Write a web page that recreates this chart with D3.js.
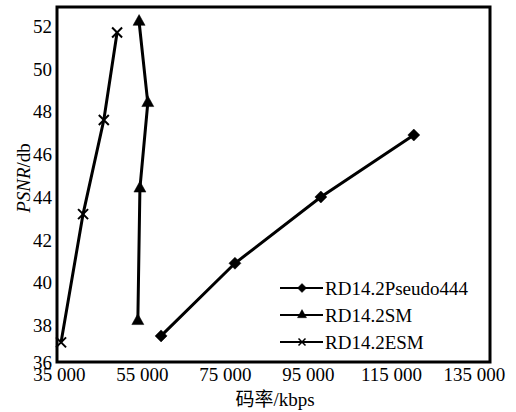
<!DOCTYPE html>
<html>
<head>
<meta charset="utf-8">
<script src="https://cdn.jsdelivr.net/npm/d3@7"></script>
<style>
  body { margin: 0; background: #fff; }
  svg text { font-family: "Liberation Serif", "Times New Roman", "DejaVu Serif", "Noto Sans CJK SC", serif; fill: #000; }
</style>
</head>
<body>
<div id="chart"></div>
<script>
const seriesNames = ["RD14.2Pseudo444", "RD14.2SM", "RD14.2ESM"];
const pseudoRate = [59600, 77400, 98100, 120500];
const pseudoPsnr = [37.5, 40.9, 44.0, 46.9];
const smRate = [54000, 54500, 56400, 54300];
const smPsnr = [38.2, 44.4, 48.4, 52.2];
const esmRate = [35500, 40800, 45800, 49000];
const esmPsnr = [37.2, 43.2, 47.6, 51.7];
const xTicks = [35000, 55000, 75000, 95000, 115000, 135000];
const yTicks = [36, 38, 40, 42, 44, 46, 48, 50, 52];

const W = 516, H = 412;
const plot = { left: 57, right: 490, top: 7, bottom: 362 };
const serif = '"Liberation Serif", "Times New Roman", "DejaVu Serif", serif';

const svg = d3.select("#chart")
  .append("svg")
  .attr("width", W)
  .attr("height", H);

// échelles
const x = d3.scaleLinear().domain([34520, 138860]).range([plot.left, plot.right]);
const y = d3.scaleLinear().domain([36.28, 52.89]).range([plot.bottom, plot.top]);

const fmt = d3.formatLocale({ decimal: ".", thousands: " ", grouping: [3], currency: ["", ""] }).format(",d");

// axes (sans traits, seulement les libellés)
const xAxis = svg.append("g")
  .attr("transform", `translate(0,${plot.bottom})`)
  .call(d3.axisBottom(x).tickValues(xTicks).tickFormat(fmt).tickSize(0).tickPadding(0));
xAxis.attr("font-family", null).attr("font-size", null);
xAxis.select(".domain").remove();
xAxis.selectAll("text")
  .attr("dy", null)
  .attr("y", 19)
  .style("font-size", "19px")
  .style("font-family", serif);

const yAxis = svg.append("g")
  .attr("transform", `translate(${plot.left},0)`)
  .call(d3.axisLeft(y).tickValues(yTicks).tickSize(0).tickPadding(5));
yAxis.attr("font-family", null).attr("font-size", null);
yAxis.select(".domain").remove();
yAxis.selectAll("text")
  .attr("dy", d => d === 36 ? "0.05em" : "0.33em")
  .style("font-size", "19px")
  .style("font-family", serif);

// cadre
svg.append("rect")
  .attr("x", plot.left)
  .attr("y", plot.top)
  .attr("width", plot.right - plot.left)
  .attr("height", plot.bottom - plot.top)
  .attr("fill", "none")
  .attr("stroke", "#000")
  .attr("stroke-width", 3);

// marqueurs
const diamond = s => `M0,${-s}L${s},0L0,${s}L${-s},0Z`;
const triangle = s => `M0,${-s * 1.2}L${s},${s * 0.6}L${-s},${s * 0.6}Z`;
const cross = s => `M${-s},${-s}L${s},${s}M${-s},${s}L${s},${-s}`;

const series = [
  { name: seriesNames[0], rate: pseudoRate, psnr: pseudoPsnr, shape: diamond, filled: true },
  { name: seriesNames[1], rate: smRate, psnr: smPsnr, shape: triangle, filled: true },
  { name: seriesNames[2], rate: esmRate, psnr: esmPsnr, shape: cross, filled: false }
];

const line = d3.line().x(d => x(d[0])).y(d => y(d[1]));

series.forEach(s => {
  const pts = s.rate.map((r, i) => [r, s.psnr[i]]);
  svg.append("path")
    .datum(pts)
    .attr("d", line)
    .attr("fill", "none")
    .attr("stroke", "#000")
    .attr("stroke-width", 3);
  svg.selectAll(null)
    .data(pts)
    .enter()
    .append("path")
    .attr("transform", d => `translate(${x(d[0])},${y(d[1])})`)
    .attr("d", s.shape(s.filled ? 6 : 5))
    .attr("fill", s.filled ? "#000" : "none")
    .attr("stroke", "#000")
    .attr("stroke-width", s.filled ? 0.5 : 2);
});

// légende
const legend = svg.append("g");
series.forEach((s, i) => {
  const ly = 288 + i * 27;
  legend.append("line")
    .attr("x1", 280).attr("x2", 323)
    .attr("y1", ly).attr("y2", ly)
    .attr("stroke", "#000")
    .attr("stroke-width", 2);
  legend.append("path")
    .attr("transform", `translate(302,${ly})`)
    .attr("d", s.shape(s.filled ? 4.5 : 3.5))
    .attr("fill", s.filled ? "#000" : "none")
    .attr("stroke", "#000")
    .attr("stroke-width", s.filled ? 0.5 : 1.5);
  legend.append("text")
    .attr("x", 325)
    .attr("y", ly)
    .attr("dy", "0.35em")
    .style("font-size", "19px")
    .text(s.name);
});

// titres
svg.append("text")
  .attr("x", 275)
  .attr("y", 406)
  .attr("text-anchor", "middle")
  .style("font-size", "19px")
  .text("码率/kbps");

const yt = svg.append("text")
  .attr("transform", "translate(30,178) rotate(-90)")
  .attr("text-anchor", "middle")
  .style("font-size", "19px");
yt.append("tspan").style("font-style", "italic").text("PSNR");
yt.append("tspan").text("/db");
</script>
</body>
</html>
